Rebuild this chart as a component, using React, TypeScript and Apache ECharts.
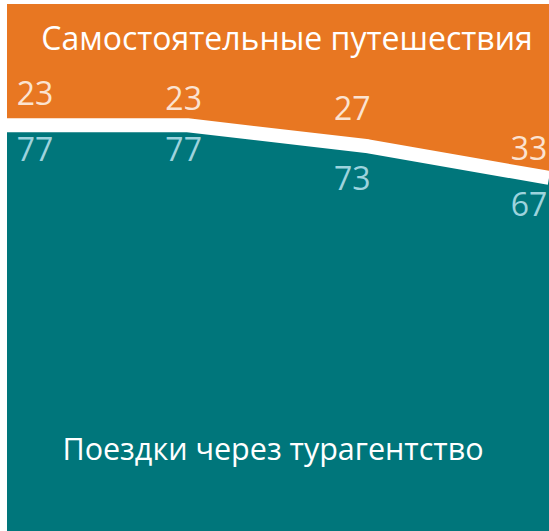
import React, { useEffect, useRef } from "react";
import * as echarts from "echarts";

const categories = ["1", "2", "3", "4"];
const agencyValues = [77, 77, 73, 67];
const independentValues = [23, 23, 27, 33];
const agencyName = "Поездки через турагентство";
const independentName = "Самостоятельные путешествия";

// label offsets (style only)
const agencyLabelOffsets = [[28, 23], [-4, 23], [-16, 31], [-20, 26]];
const independentLabelOffsets = [[28, -33], [-4, -28], [-16, -39], [-20, -30]];

const ORANGE = "#E87722";
const TEAL = "#00767B";
const FONT = "Open Sans";

export default function App() {
  const ref = useRef<HTMLDivElement>(null);
  useEffect(() => {
    document.body.style.margin = "0";
    const chart = echarts.init(ref.current!, null, { renderer: "svg" });
    chart.setOption({
      animation: false,
      backgroundColor: "#ffffff",
      grid: { left: 7, right: -14, top: 4, bottom: 0, containLabel: false },
      xAxis: {
        type: "category",
        data: categories,
        boundaryGap: false,
        show: false,
      },
      yAxis: { type: "value", min: 0, max: 100, show: false },
      series: [
        {
          name: agencyName,
          type: "line",
          stack: "total",
          z: 3,
          symbol: "circle",
          symbolSize: 1,
          itemStyle: { color: "rgba(0,0,0,0)" },
          lineStyle: { color: "#ffffff", width: 14 },
          areaStyle: { color: TEAL, opacity: 1 },
          data: agencyValues.map((v, i) => ({
            value: v,
            label: { offset: agencyLabelOffsets[i] },
          })),
          label: {
            show: true,
            position: "inside",
            color: "#9DD3DD",
            fontFamily: FONT,
            fontSize: 32,
          },
        },
        {
          name: independentName,
          type: "line",
          stack: "total",
          z: 2,
          symbol: "none",
          lineStyle: { width: 0 },
          areaStyle: { color: ORANGE, opacity: 1 },
          data: independentValues,
        },
        {
          // labels of the independent series, anchored at the boundary
          name: independentName + " labels",
          type: "line",
          z: 4,
          symbol: "circle",
          symbolSize: 1,
          itemStyle: { color: "rgba(0,0,0,0)" },
          lineStyle: { width: 0, opacity: 0 },
          data: agencyValues.map((v, i) => ({
            value: v,
            label: { offset: independentLabelOffsets[i] },
          })),
          label: {
            show: true,
            position: "inside",
            color: "#FBE3D1",
            fontFamily: FONT,
            fontSize: 32,
            formatter: (p: any) => String(independentValues[p.dataIndex]),
          },
        },
      ],
      graphic: [
        {
          type: "text",
          x: 287,
          y: 37,
          z: 10,
          style: {
            text: independentName,
            fill: "#ffffff",
            font: `32px "${FONT}"`,
            align: "center",
            verticalAlign: "middle",
          },
        },
        {
          type: "text",
          x: 273,
          y: 448,
          z: 10,
          style: {
            text: agencyName,
            fill: "#ffffff",
            font: `30.5px "${FONT}"`,
            align: "center",
            verticalAlign: "middle",
          },
        },
      ],
    });
    return () => chart.dispose();
  }, []);
  return <div ref={ref} style={{ width: 549, height: 531 }} />;
}
